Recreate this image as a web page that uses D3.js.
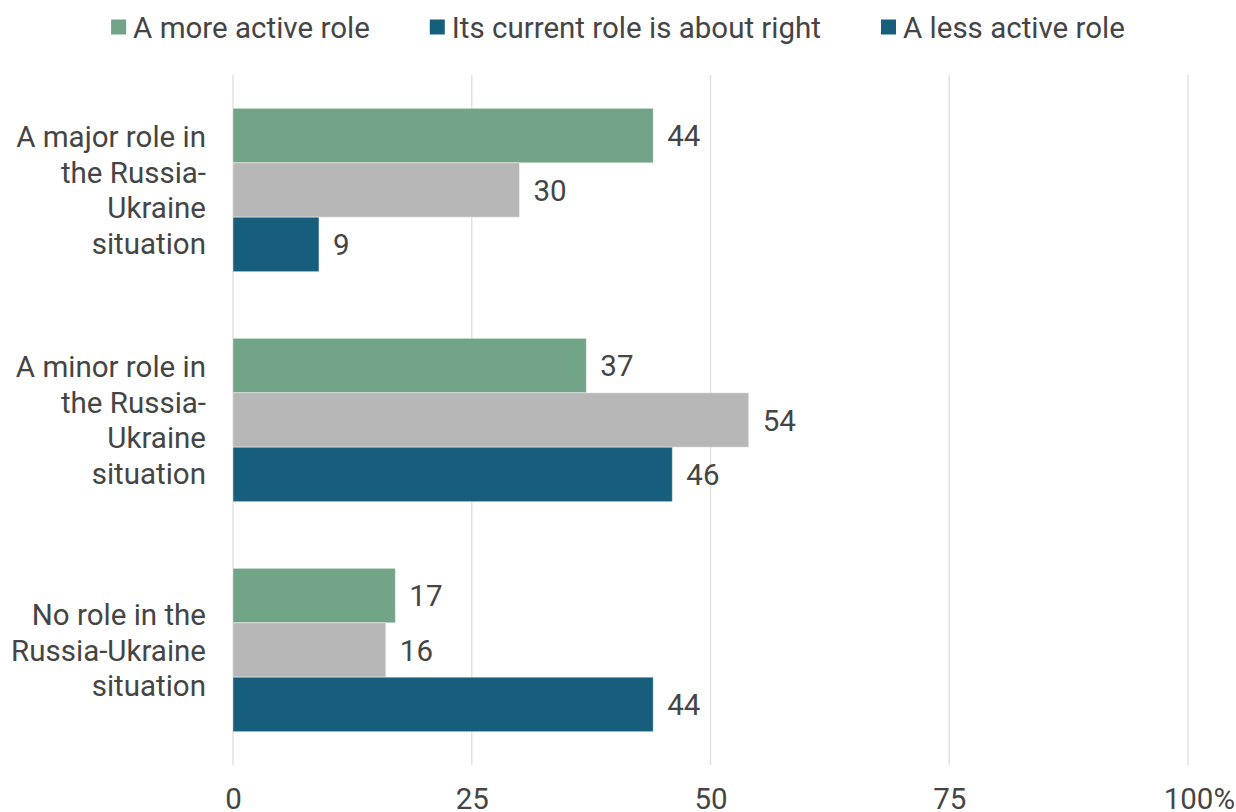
<!DOCTYPE html>
<html>
<head>
<meta charset="utf-8">
<script src="https://cdn.jsdelivr.net/npm/d3@7"></script>
<style>
  body { margin: 0; background: #fff; }
  svg text { font-family: Roboto, "Noto Sans", sans-serif; fill: #454545; }
</style>
</head>
<body>
<div id="chart"></div>
<script>
const categories = [
    "A major role in the Russia-Ukraine situation",
    "A minor role in the Russia-Ukraine situation",
    "No role in the Russia-Ukraine situation"
];
const categoryLines = [
    ["A major role in", "the Russia-", "Ukraine", "situation"],
    ["A minor role in", "the Russia-", "Ukraine", "situation"],
    ["No role in the", "Russia-Ukraine", "situation"]
];
const seriesNames = ["A more active role", "Its current role is about right", "A less active role"];
const moreActive = [44, 37, 17];
const currentRole = [30, 54, 16];
const lessActive = [9, 46, 44];
const xTicks = [0, 25, 50, 75, 100];

const barColors = ["#72a488", "#b7b7b7", "#175e7c"];
// legend swatch for the middle series is dark blue in the original
const legendColors = ["#72a488", "#175e7c", "#175e7c"];

const width = 1236, height = 812;
const margin = {top: 75, right: 48, bottom: 47, left: 233};
const fontSize = "29.5px";

const svg = d3.select("#chart")
    .append("svg")
    .attr("width", width)
    .attr("height", height);

const data = categories.map((c, i) => ({
    cat: c,
    values: [moreActive[i], currentRole[i], lessActive[i]]
}));

// X axis
const x = d3.scaleLinear()
    .domain([0, 100])
    .range([margin.left, width - margin.right]);

// Y bands
const y = d3.scaleBand()
    .domain(categories)
    .range([margin.top, height - margin.bottom])
    .paddingInner(0.29)
    .paddingOuter(0.145);

const ySub = d3.scaleBand()
    .domain([0, 1, 2])
    .range([0, y.bandwidth()]);

// gridlines
svg.append("g")
    .selectAll("line")
    .data(xTicks)
    .enter()
    .append("line")
    .attr("x1", d => x(d))
    .attr("x2", d => x(d))
    .attr("y1", margin.top)
    .attr("y2", height - margin.bottom)
    .attr("stroke", "#e2e2e2")
    .attr("stroke-width", 1.5);

// tick labels
const axis = svg.append("g")
    .attr("transform", "translate(0," + (height - margin.bottom) + ")")
    .call(d3.axisBottom(x).tickValues(xTicks).tickSize(0).tickPadding(23).tickFormat(d => d));
axis.select(".domain").remove();
axis.selectAll("text")
    .style("font-size", fontSize)
    .attr("fill", null);
const lastTick = axis.selectAll(".tick").filter(d => d === 100);
const lastText = lastTick.select("text");
const w100 = lastText.node().getComputedTextLength();
lastTick.append("text")
    .attr("x", w100 / 2)
    .attr("y", lastText.attr("y"))
    .attr("dy", lastText.attr("dy"))
    .attr("text-anchor", "start")
    .style("font-size", fontSize)
    .text("%");

// bars
const groups = svg.append("g")
    .selectAll("g")
    .data(data)
    .enter()
    .append("g")
    .attr("transform", d => "translate(0," + y(d.cat) + ")");

groups.selectAll("rect")
    .data(d => d.values)
    .enter()
    .append("rect")
    .attr("x", x(0))
    .attr("y", (d, i) => ySub(i))
    .attr("width", d => x(d) - x(0))
    .attr("height", ySub.bandwidth())
    .attr("fill", (d, i) => barColors[i])
    .attr("stroke", "#ffffff")
    .attr("stroke-opacity", 0.4)
    .attr("stroke-width", 1);

groups.selectAll(".val")
    .data(d => d.values)
    .enter()
    .append("text")
    .attr("class", "val")
    .attr("x", d => x(d) + 14)
    .attr("y", (d, i) => ySub(i) + ySub.bandwidth() / 2)
    .attr("dy", "0.36em")
    .style("font-size", fontSize)
    .text(d => d);

// category labels
svg.append("g")
    .selectAll("text")
    .data(categories)
    .enter()
    .append("text")
    .attr("text-anchor", "end")
    .style("font-size", fontSize)
    .each(function (d, i) {
        const lines = categoryLines[i];
        const lh = 35.5;
        const cy = y(d) + y.bandwidth() / 2;
        const t = d3.select(this);
        lines.forEach((ln, j) => {
            t.append("tspan")
                .attr("x", margin.left - 27)
                .attr("y", cy + (j - (lines.length - 1) / 2) * lh)
                .attr("dy", "0.36em")
                .text(ln);
        });
    });

// legend
const legend = svg.append("g");
const items = legend.selectAll("g")
    .data(seriesNames)
    .enter()
    .append("g");
items.append("rect")
    .attr("width", 15)
    .attr("height", 15)
    .attr("y", -7.5)
    .attr("fill", (d, i) => legendColors[i]);
items.append("text")
    .attr("x", 22)
    .attr("dy", "0.36em")
    .style("font-size", fontSize)
    .text(d => d);

let pos = 0;
items.each(function () {
    const g = d3.select(this);
    g.attr("transform", "translate(" + pos + ",0)");
    pos += 22 + g.select("text").node().getComputedTextLength() + 60;
});
const legendWidth = pos - 60;
legend.attr("transform", "translate(" + ((width - legendWidth) / 2) + ",27)");
</script>
</body>
</html>
